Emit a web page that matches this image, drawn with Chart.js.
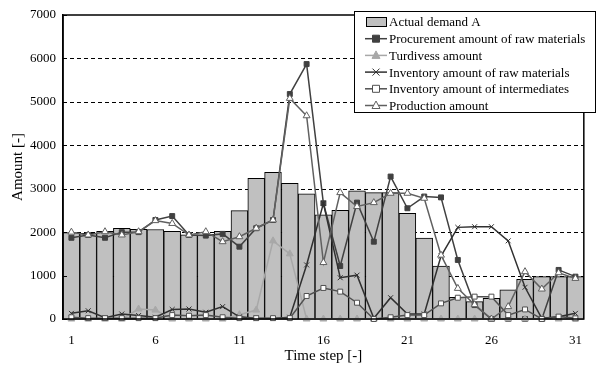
<!DOCTYPE html>
<html>
<head>
<meta charset="utf-8">
<script src="https://cdn.jsdelivr.net/npm/chart.js@4.4.1/dist/chart.umd.min.js"></script>
<style>
  html, body { margin: 0; padding: 0; background: #fff; }
  #grafico { display: block; }
</style>
</head>
<body>
<canvas id="grafico" width="596" height="367"></canvas>
<script>
const passos = Array.from({ length: 31 }, (_, i) => String(i + 1));

const demandaA = [1990, 1975, 2020, 2090, 2065, 2060, 2020, 1940, 1940, 2020,
  2495, 3240, 3380, 3125, 2880, 2400, 2500, 2950, 2910, 2910,
  2435, 1865, 1220, 500, 400, 475, 670, 915, 975, 975, 975];

const aquisicao = [1870, 1935, 1870, 2000, 2000, 2280, 2370, 1935, 1920, 1960,
  1665, 2090, 2280, 5180, 5870, 2665, 1220, 2680, 1780, 3280,
  2550, 2820, 2800, 1360, 320, 0, 0, 0, 0, 1130, 975];

const turdivess = [0, 0, 0, 0, 230, 205, 0, 0, 0, 0,
  100, 205, 1800, 1500, 0, 0, 0, 0, 0, 0,
  0, 0, 0, 0, 0, 0, 0, 0, 0, 0, 0];

const estoqueMP = [130, 190, 30, 115, 80, 40, 220, 230, 155, 285,
  50, 20, 10, 40, 1245, 2665, 950, 1010, 15, 490,
  115, 115, 1450, 2110, 2125, 2125, 1800, 730, 15, 50, 130];

const estoqueInter = [40, 20, 20, 20, 20, 20, 90, 75, 90, 40,
  20, 20, 20, 20, 530, 715, 630, 375, 0, 40,
  90, 90, 360, 490, 515, 515, 90, 220, 0, 55, 15];

const producao = [2000, 1935, 2010, 1935, 2010, 2265, 2200, 1935, 2010, 1780,
  1895, 2090, 2280, 5080, 4680, 1300, 2910, 2590, 2680, 2895,
  2895, 2780, 1470, 705, 330, 0, 285, 1090, 690, 1065, 935];

const yTicks = [0, 1000, 2000, 3000, 4000, 5000, 6000, 7000];

const fonte = 'Liberation Serif, Times New Roman, serif';

function linha(label, data, cor, estilo, fundo, ordem) {
  return {
    type: 'line',
    label,
    data,
    borderColor: cor,
    borderWidth: 1.5,
    pointStyle: estilo,
    pointRadius: estilo === 'triangle' ? 4 : 3.5,
    pointBackgroundColor: fundo,
    pointBorderColor: cor,
    pointBorderWidth: 1,
    tension: 0,
    clip: false,
    order: ordem
  };
}

// desenha o simbolo da serie na legenda
function simbolo(ctx, ds, x, y) {
  ctx.save();
  ctx.fillStyle = ds.pointBackgroundColor;
  ctx.strokeStyle = ds.pointBorderColor;
  ctx.lineWidth = 1;
  ctx.beginPath();
  if (ds.pointStyle === 'rect') {
    ctx.rect(x - 3.5, y - 3.5, 7, 7);
    ctx.fill(); ctx.stroke();
  } else if (ds.pointStyle === 'triangle') {
    ctx.moveTo(x, y - 4.5);
    ctx.lineTo(x + 4, y + 3);
    ctx.lineTo(x - 4, y + 3);
    ctx.closePath();
    ctx.fill(); ctx.stroke();
  } else {
    ctx.moveTo(x - 3.5, y - 3.5); ctx.lineTo(x + 3.5, y + 3.5);
    ctx.moveTo(x + 3.5, y - 3.5); ctx.lineTo(x - 3.5, y + 3.5);
    ctx.stroke();
  }
  ctx.restore();
}

// linhas de grade tracejadas atras das barras
const grade = {
  id: 'grade',
  beforeDatasetsDraw(chart) {
    const { ctx, chartArea: a } = chart;
    const y = chart.scales.y;
    ctx.save();
    ctx.strokeStyle = '#000';
    ctx.lineWidth = 1;
    ctx.setLineDash([4, 3]);
    yTicks.slice(1, -1).forEach(v => {
      const py = Math.round(y.getPixelForValue(v)) + 0.5;
      ctx.beginPath();
      ctx.moveTo(a.left, py);
      ctx.lineTo(a.right, py);
      ctx.stroke();
    });
    ctx.restore();
  }
};

const molduraELegenda = {
  id: 'molduraELegenda',
  afterDraw(chart) {
    const { ctx, chartArea: a } = chart;
    const y = chart.scales.y;
    ctx.save();
    ctx.strokeStyle = '#000';
    ctx.lineWidth = 1.5;
    ctx.strokeRect(a.left, a.top, a.right - a.left, a.bottom - a.top);
    // marcas internas no eixo y
    ctx.lineWidth = 1;
    yTicks.forEach(v => {
      const py = Math.round(y.getPixelForValue(v)) + 0.5;
      ctx.beginPath();
      ctx.moveTo(a.left, py);
      ctx.lineTo(a.left + 4, py);
      ctx.stroke();
    });

    // legenda
    const lx = 354.5, ly = 11.5, lw = 241, lh = 101;
    ctx.fillStyle = '#fff';
    ctx.fillRect(lx, ly, lw, lh);
    ctx.strokeStyle = '#000';
    ctx.strokeRect(lx, ly, lw, lh);
    ctx.font = '13px ' + fonte;
    ctx.textBaseline = 'middle';
    chart.data.datasets.forEach((ds, i) => {
      const ry = 22 + i * 16.7;
      if (ds.type === 'bar') {
        ctx.fillStyle = ds.backgroundColor;
        ctx.fillRect(366.5, ry - 4.5, 20, 9);
        ctx.strokeStyle = '#000';
        ctx.strokeRect(366.5, ry - 4.5, 20, 9);
      } else {
        ctx.strokeStyle = ds.borderColor;
        ctx.lineWidth = 1.5;
        ctx.beginPath();
        ctx.moveTo(365, ry);
        ctx.lineTo(387, ry);
        ctx.stroke();
        simbolo(ctx, ds, 376, ry);
      }
      ctx.fillStyle = '#000';
      ctx.fillText(ds.label, 389, ry + 1);
    });
    ctx.restore();
  }
};

const ctx = document.getElementById('grafico').getContext('2d');
new Chart(ctx, {
  type: 'bar',
  data: {
    labels: passos,
    datasets: [
      {
        type: 'bar',
        label: 'Actual demand A',
        data: demandaA,
        backgroundColor: '#c0c0c0',
        borderColor: '#000',
        borderWidth: 1,
        categoryPercentage: 1,
        barPercentage: 1,
        order: 10
      },
      linha('Procurement amount of raw materials', aquisicao, '#404040', 'rect', '#404040', 5),
      linha('Turdivess amount', turdivess, '#a8a8a8', 'triangle', '#a8a8a8', 4),
      linha('Inventory amount of raw materials', estoqueMP, '#303030', 'crossRot', '#303030', 3),
      linha('Inventory amount of intermediates', estoqueInter, '#505050', 'rect', '#ffffff', 2),
      linha('Production amount', producao, '#606060', 'triangle', '#ffffff', 1)
    ]
  },
  options: {
    responsive: false,
    animation: false,
    devicePixelRatio: 1,
    layout: { padding: { left: 0, top: 15, right: 1, bottom: 0 } },
    plugins: {
      legend: { display: false },
      tooltip: { enabled: false }
    },
    scales: {
      x: {
        grid: { display: false, drawTicks: false },
        border: { display: true, color: '#000', width: 1.5 },
        ticks: {
          autoSkip: false,
          maxRotation: 0,
          padding: 14,
          color: '#000',
          font: { family: fonte, size: 13 },
          callback: (v, i) => (i % 5 === 0 ? passos[i] : '')
        },
        title: {
          display: true,
          text: 'Time step [-]',
          color: '#000',
          font: { family: fonte, size: 15 },
          padding: { top: 0, bottom: 2 }
        },
        afterFit: s => { s.height = 48; }
      },
      y: {
        min: 0,
        max: 7000,
        grid: { display: false, drawTicks: false },
        border: { display: true, color: '#000', width: 1.5 },
        ticks: {
          stepSize: 1000,
          padding: 7,
          color: '#000',
          font: { family: fonte, size: 13 },
          callback: v => String(v)
        },
        title: {
          display: true,
          text: 'Amount [-]',
          color: '#000',
          font: { family: fonte, size: 15 },
          padding: { top: 9, bottom: 0 }
        },
        afterFit: s => { s.width = 63; }
      }
    }
  },
  plugins: [grade, molduraELegenda]
});
</script>
</body>
</html>
